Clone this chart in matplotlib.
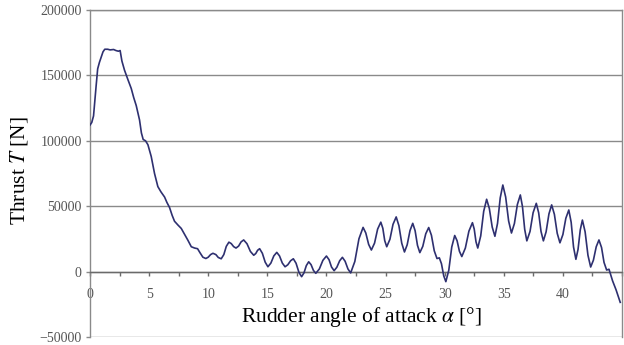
import matplotlib
matplotlib.use("Agg")
import matplotlib.pyplot as plt
from matplotlib.ticker import MultipleLocator

# Thrust vs rudder angle
alpha = [0.0, 0.15, 0.3, 0.42, 0.52, 0.65, 0.8, 0.95, 1.1, 1.25, 1.5, 1.7, 2.0, 2.2, 2.4, 2.55,
         2.7, 2.92, 3.2, 3.49, 3.7, 3.91, 4.19, 4.35, 4.5, 4.7, 4.9, 5.18, 5.46, 5.74, 6.0,
         6.31, 6.5, 6.73, 6.95, 7.15, 7.45, 7.72, 8.0, 8.28, 8.57, 8.85, 9.1, 9.3, 9.55,
         9.8, 10.0, 10.2, 10.4, 10.65, 10.85, 11.1, 11.32, 11.53, 11.75, 11.95, 12.15,
         12.35, 12.57, 12.78, 13.0, 13.28, 13.57, 13.85, 14.02, 14.18, 14.35, 14.58, 14.82,
         15.05, 15.3, 15.55, 15.8, 16.03, 16.27, 16.5, 16.73, 16.97, 17.2, 17.43, 17.67,
         17.9, 18.1, 18.3, 18.5, 18.7, 18.9, 19.1, 19.4, 19.7, 20.0, 20.22, 20.43, 20.65,
         20.88, 21.12, 21.35, 21.58, 21.82, 22.05, 22.4, 22.75, 23.1, 23.33, 23.57, 23.8,
         24.07, 24.33, 24.6, 24.77, 24.93, 25.1, 25.37, 25.63, 25.9, 26.13, 26.37, 26.6,
         26.83, 27.07, 27.3, 27.5, 27.7, 27.9, 28.15, 28.4, 28.65, 28.88, 29.12, 29.35,
         29.55, 29.73, 29.92, 30.1, 30.35, 30.6, 30.85, 31.05, 31.25, 31.45, 31.75, 32.05,
         32.35, 32.5, 32.65, 32.8, 33.05, 33.3, 33.55, 33.78, 34.02, 34.25, 34.47, 34.7,
         34.92, 35.16, 35.41, 35.65, 35.9, 36.15, 36.4, 36.58, 36.77, 36.95, 37.22, 37.48,
         37.75, 37.95, 38.15, 38.35, 38.58, 38.82, 39.05, 39.28, 39.52, 39.75, 40.0, 40.25,
         40.5, 40.7, 40.9, 41.1, 41.28, 41.47, 41.65, 41.88, 42.12, 42.35, 42.58, 42.82,
         43.05, 43.27, 43.48, 43.7, 43.9, 44.2, 44.5, 44.85]
thrust = [112000, 114000, 119000, 132000, 142000, 155000, 160000, 164000, 168000, 170000,
          170000, 169500, 169800, 169000, 168500, 169000, 161000, 154000, 147000, 140000,
          133000, 127000, 116000, 106000, 101000, 100000, 97000, 88000, 75000, 65000, 61000,
          57000, 53000, 49000, 43000, 38500, 35500, 33000, 28500, 24000, 19000, 18000, 17500,
          14500, 11000,
          10000, 11000, 13000, 14000, 13000, 10800, 9800, 13000, 19300, 22500, 21400, 19100,
          18000, 19500, 22700, 24200, 21300, 15400, 12500, 13800, 16300, 17500, 14000, 7200,
          3700, 6500, 12000, 14700, 12000, 6500, 3700, 5200, 8300, 9800, 6400, -500,
          -3900, -1000, 4600, 7500, 5300, 900, -1300, 2000, 8600, 11900, 9100, 3500, 700,
          3300, 8300, 10900, 7900, 2000, -1000, 7700, 25100, 33800, 29500, 20800, 16500,
          21800, 32500, 37800, 33100, 23700, 19000, 24700, 36100, 41800, 35100, 21700, 15000,
          20500, 31400, 36900, 31300, 20100, 14500, 19300, 28900, 33700, 27800, 15900, 10000,
          10500, 6000, -3200, -7700, 1100, 18800, 27600, 23600, 15500, 11500, 18000, 30900,
          37400, 32500, 22800, 18000, 27300, 46000, 55300, 48200, 34100, 27000, 36800, 56400,
          66200, 57000, 38700, 29500, 36800, 51300, 58600, 49800, 32300, 23500, 30700, 45000,
          52200, 45000, 30700, 23500, 30400, 44100, 51000, 43800, 29300, 22000, 28300, 40800,
          47100, 37700, 18800, 9400, 16900, 31900, 39400, 30400, 12500, 3500, 8700, 19000,
          24200, 18400, 7000, 1200, 1800, -7000, -14000, -23500]

y_ticks = [-50000, 0, 50000, 100000, 150000, 200000]
x_ticks = [0, 5, 10, 15, 20, 25, 30, 35, 40]

plt.rcParams['font.family'] = ['Liberation Serif', 'DejaVu Serif']
plt.rcParams['mathtext.fontset'] = 'stix'

fig = plt.figure(figsize=(6.24, 3.45), dpi=100)
ax = fig.add_axes([0.1442, 0.0232, 0.8526, 0.9478])

ax.plot(alpha, thrust, color='#2e3070', linewidth=1.2, zorder=3)

ax.set_xlim(0, 45)
ax.set_ylim(-50000, 200000)
ax.set_yticks(y_ticks)
ax.set_xticks(x_ticks)
ax.xaxis.set_minor_locator(MultipleLocator(2.5))

ax.grid(axis='y', color='#8a8a8a', linewidth=1.0)
ax.set_axisbelow(True)

for side in ['left', 'right', 'top']:
    ax.spines[side].set_color('#8a8a8a')
    ax.spines[side].set_linewidth(1.0)
ax.spines['bottom'].set_position(('data', 0))
ax.spines['bottom'].set_color('#6a6a6a')
ax.spines['bottom'].set_linewidth(1.0)

ax.tick_params(axis='y', direction='out', length=3, width=1, color='#8a8a8a',
               labelsize=10, labelcolor='#555555', pad=3)
ax.tick_params(axis='x', which='both', direction='out', length=3, width=1, color='#6a6a6a',
               labelsize=10, labelcolor='#555555', pad=9)

ax.set_xlabel(r'Rudder angle of attack $\alpha$ [°]', fontsize=15.5)
ax.xaxis.label.set_va('center')
ax.xaxis.set_label_coords(0.511, 0.062)
ax.set_ylabel(r'Thrust $T$ [N]', fontsize=15.5)
ax.yaxis.set_label_coords(-0.112, 0.51)

fig.savefig('out.png', dpi=100)
